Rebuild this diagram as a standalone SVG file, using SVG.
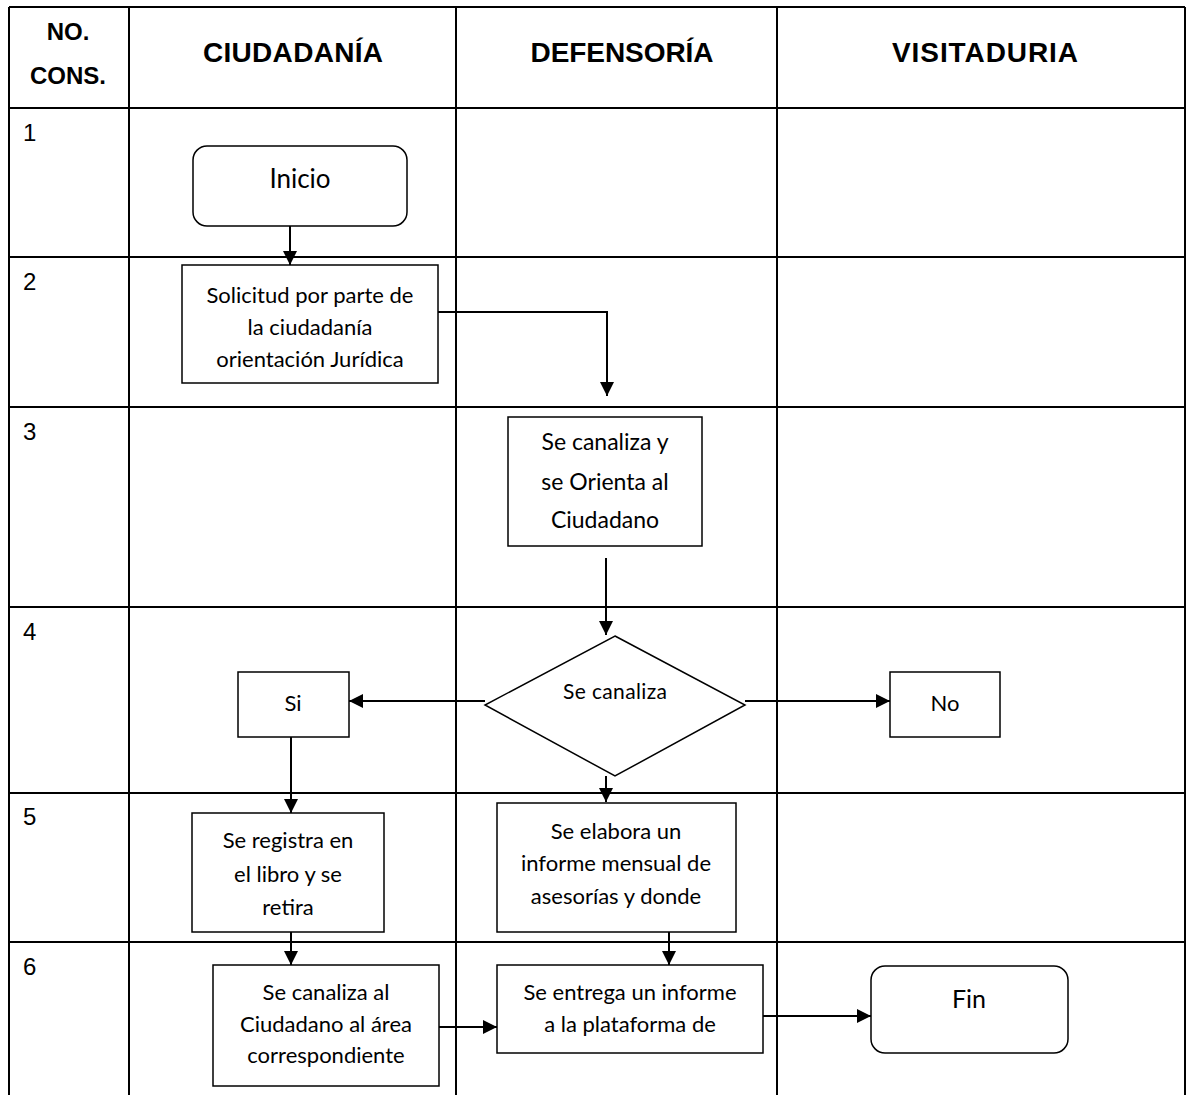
<svg xmlns="http://www.w3.org/2000/svg" width="1187" height="1095" viewBox="0 0 1187 1095">
<style>
.grid{stroke:#000;stroke-width:2;fill:none}
.box{fill:#fff;stroke:#000;stroke-width:1.5}
.con{stroke:#000;stroke-width:2;fill:none}
.hd{font-family:"Liberation Sans",Arial,sans-serif;font-weight:bold;font-size:24px;text-anchor:middle;fill:#000}
.ht{font-family:"Liberation Sans",Arial,sans-serif;font-weight:bold;font-size:28px;text-anchor:middle;fill:#000}
.num{font-family:"Liberation Sans",Arial,sans-serif;font-size:24px;fill:#000}
.t{font-family:Lato,"Open Sans",sans-serif;font-size:22px;text-anchor:middle;fill:#000}
.tl{font-family:Lato,"Open Sans",sans-serif;font-size:26px;text-anchor:middle;fill:#000}
</style>
<defs>
<marker id="ah" markerWidth="14" markerHeight="14" refX="14" refY="7" orient="auto" markerUnits="userSpaceOnUse">
<path d="M0,0 L14,7 L0,14 Z" fill="#000"/>
</marker>
</defs>
<rect width="1187" height="1095" fill="#fff"/>
<g id="table">
<path class="grid" d="M9,7 H1185 M9,108 H1185 M9,257 H1185 M9,407 H1185 M9,607 H1185 M9,793 H1185 M9,942 H1185"/>
<path class="grid" d="M9,7 V1095 M129,7 V1095 M456,7 V1095 M777,7 V1095 M1185,7 V1095"/>
<text class="hd" x="68" y="40">NO.</text>
<text class="hd" x="68" y="84">CONS.</text>
<text class="ht" x="293" y="62" textLength="180">CIUDADANÍA</text>
<text class="ht" x="622" y="62" textLength="183">DEFENSORÍA</text>
<text class="ht" x="985" y="62" textLength="186">VISITADURIA</text>
<text class="num" x="23" y="141">1</text>
<text class="num" x="23" y="290">2</text>
<text class="num" x="23" y="440">3</text>
<text class="num" x="23" y="640">4</text>
<text class="num" x="23" y="825">5</text>
<text class="num" x="23" y="975">6</text>
</g>
<g id="connectors">
<line class="con" x1="290" y1="226" x2="290" y2="265" marker-end="url(#ah)"/>
<polyline class="con" points="438,312 607,312 607,396" marker-end="url(#ah)"/>
<line class="con" x1="606" y1="558" x2="606" y2="635" marker-end="url(#ah)"/>
<line class="con" x1="485" y1="701" x2="349" y2="701" marker-end="url(#ah)"/>
<line class="con" x1="745" y1="701" x2="890" y2="701" marker-end="url(#ah)"/>
<line class="con" x1="291" y1="737" x2="291" y2="813" marker-end="url(#ah)"/>
<line class="con" x1="606" y1="776" x2="606" y2="802" marker-end="url(#ah)"/>
<line class="con" x1="291" y1="932" x2="291" y2="965" marker-end="url(#ah)"/>
<line class="con" x1="669" y1="932" x2="669" y2="965" marker-end="url(#ah)"/>
<line class="con" x1="439" y1="1027" x2="497" y2="1027" marker-end="url(#ah)"/>
<line class="con" x1="763" y1="1016" x2="871" y2="1016" marker-end="url(#ah)"/>
</g>
<g id="inicio">
<rect class="box" x="193" y="146" width="214" height="80" rx="14"/>
<text class="tl" x="300" y="188">Inicio</text>
</g>
<g id="solicitud">
<rect class="box" x="182" y="265" width="256" height="118"/>
<text class="t" x="310" y="303">Solicitud por parte de</text>
<text class="t" x="310" y="335">la ciudadanía</text>
<text class="t" x="310" y="367">orientación Jurídica</text>
</g>
<g id="orienta">
<rect class="box" x="508" y="417" width="194" height="129"/>
<text class="t" x="605" y="450" style="font-size:23px">Se canaliza y</text>
<text class="t" x="605" y="490" style="font-size:23px">se Orienta al</text>
<text class="t" x="605" y="528" style="font-size:23px">Ciudadano</text>
</g>
<g id="decision">
<polygon class="box" points="615,636 745,705 615,776 485,705"/>
<text class="t" x="615" y="699" style="font-size:21px" textLength="104">Se canaliza</text>
</g>
<g id="si">
<rect class="box" x="238" y="672" width="111" height="65"/>
<text class="t" x="293" y="711">Si</text>
</g>
<g id="no">
<rect class="box" x="890" y="672" width="110" height="65"/>
<text class="t" x="945" y="711">No</text>
</g>
<g id="registra">
<rect class="box" x="192" y="813" width="192" height="119"/>
<text class="t" x="288" y="848">Se registra en</text>
<text class="t" x="288" y="882">el libro y se</text>
<text class="t" x="288" y="915">retira</text>
</g>
<g id="elabora">
<rect class="box" x="497" y="803" width="239" height="129"/>
<text class="t" x="616" y="839">Se elabora un</text>
<text class="t" x="616" y="871">informe mensual de</text>
<text class="t" x="616" y="904">asesorías y donde</text>
</g>
<g id="canaliza_al">
<rect class="box" x="213" y="965" width="226" height="121"/>
<text class="t" x="326" y="1000">Se canaliza al</text>
<text class="t" x="326" y="1032">Ciudadano al área</text>
<text class="t" x="326" y="1063">correspondiente</text>
</g>
<g id="entrega">
<rect class="box" x="497" y="965" width="266" height="88"/>
<text class="t" x="630" y="1000">Se entrega un informe</text>
<text class="t" x="630" y="1032">a la plataforma de</text>
</g>
<g id="fin">
<rect class="box" x="871" y="966" width="197" height="87" rx="14"/>
<text class="tl" x="969" y="1008" style="font-size:25px">Fin</text>
</g>
</svg>
